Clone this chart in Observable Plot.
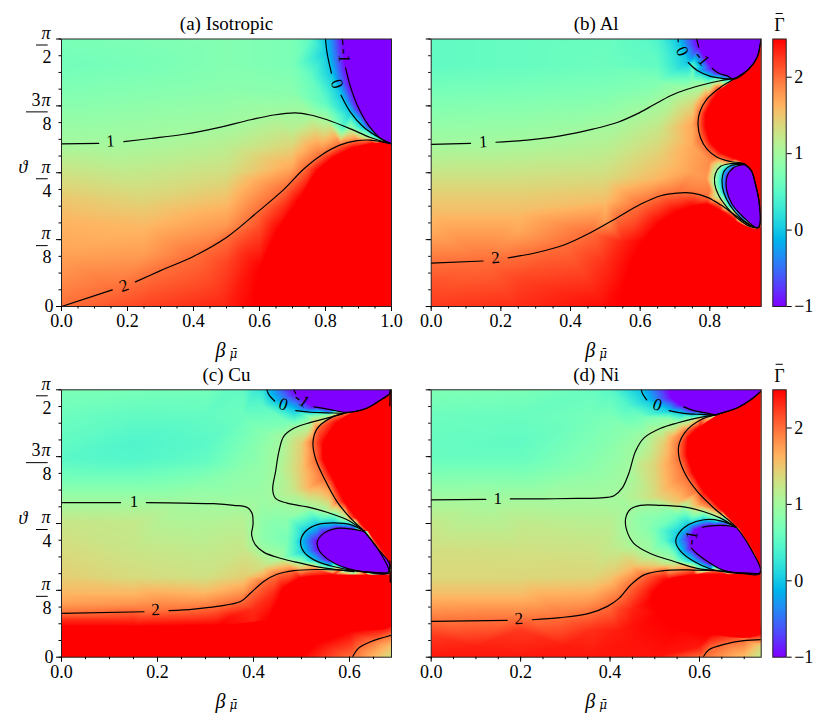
<!DOCTYPE html>
<html><head><meta charset="utf-8">
<script src="https://cdn.jsdelivr.net/npm/d3@7"></script>
<script src="https://cdn.jsdelivr.net/npm/@observablehq/plot@0.6"></script>
<style>html,body{margin:0;padding:0;background:#fff}#c{position:relative;width:830px;height:722px;overflow:hidden}</style>
</head><body><div id="c"></div>
<script>
// y values are ϑ/π. Each contour is a list of pieces [[β, ϑ/π], ...]; gaps between pieces hold the inline labels.
const aMinus1=[[[.851,.5],[.853,.49]],[[.861,.446],[.876,.41],[.901,.37],[.931,.338],[.967,.314],[1,.304]]];
const aZero=[[[.8,.5],[.805,.473],[.818,.436]],[[.847,.395],[.876,.363],[.916,.335],[.967,.314],[1,.304]]];
const aOne=[[[0,.304],[.113,.305]],[[.189,.308],[.27,.314],[.371,.322],[.472,.334],[.573,.349],[.643,.358],[.709,.362],[.754,.358],[.805,.349],[.876,.332],[.936,.316],[1,.304]]];
const aTwo=[[[0,0],[.154,.031]],[[.224,.046],[.3,.067],[.401,.094],[.502,.13],[.593,.176],[.674,.219],[.734,.257],[.785,.282],[.845,.302],[.896,.31],[.936,.311],[1,.304]]];
const aRed=[[[.578,0],[.603,.073],[.654,.142],[.724,.204],[.775,.254],[.825,.279],[.886,.297],[.946,.305],[1,.304],[1,0]]];
const aPurple=[[[.851,.5],[.853,.49],[.861,.446],[.876,.41],[.901,.37],[.931,.338],[.967,.314],[1,.304],[1,.5]]];
const aField=[[0,.5,.72],[0,.45,.66],[0,.4,.76],[0,.35,.9],[0,.25,1.28],[0,.2,1.5],[0,.16,1.62],[0,.1,1.72],[0,.05,1.85],
[.25,.5,.74],[.25,.45,.7],[.25,.4,.8],[.25,.35,.92],[.25,.25,1.22],[.25,.2,1.4],[.25,.15,1.6],[.25,.1,1.75],[.25,0,2.2],
[.5,.5,.78],[.5,.45,.78],[.5,.4,.84],[.5,.36,.93],[.5,.3,1.15],[.5,.25,1.32],[.5,.2,1.55],[.5,.15,1.8],[.5,.08,2.2],[.5,0,2.35],
[.7,.5,.72],[.7,.45,.72],[.7,.4,.82],[.7,.33,1.15],[.7,.3,1.4],[.7,.26,1.7],
[.75,.5,.55],[.75,.43,.6],[.8,.38,.55],[.85,.33,.6],
[.6,.15,2.15],[.55,.1,2.3],[.68,.19,2.3],[.55,.05,2.4],[.75,.25,2.2]];
const aLabels=[["1",.148,.309,-3],["2",.189,.039,-20],["0",.835,.416,70],["-1",.856,.469,90]];

const bMinus1=[[[.762,.5],[.768,.485]],[[.807,.445],[.826,.436],[.85,.431],[.869,.425],[.912,.444],[.936,.466],[.945,.491],[.9475,.5]],
[[.898,.265],[.869,.26],[.85,.244],[.848,.219],[.864,.191],[.898,.166],[.936,.147],[.944,.154],[.941,.198],[.931,.229],[.919,.254],[.898,.266]]];
const bZero=[[[.709,.5],[.709,.495]],[[.738,.456],[.764,.441],[.802,.43],[.84,.426],[.869,.425]],
[[.898,.266],[.859,.263],[.842,.254],[.835,.235],[.84,.213],[.859,.188],[.888,.166],[.926,.148]]];
const bOne=[[[0,.303],[.113,.305]],[[.186,.307],[.276,.311],[.371,.319],[.467,.332],[.534,.344],[.591,.36],[.639,.377],[.687,.394],[.735,.406],[.783,.415],[.83,.422],[.874,.427]],
[[.898,.267],[.859,.267],[.831,.262],[.816,.248],[.814,.229],[.826,.207],[.85,.185],[.883,.163],[.917,.149],[.936,.147]]];
const bTwo=[[[0,.081],[.149,.085]],[[.221,.091],[.304,.101],[.381,.115],[.457,.138],[.534,.166],[.601,.191],[.659,.207],[.706,.212],[.749,.212],[.793,.204],[.831,.19],[.874,.17],[.917,.151],[.936,.147]],
[[.9475,.5],[.945,.491],[.936,.466],[.912,.444],[.874,.427],[.831,.41],[.792,.388],[.771,.363],[.766,.341],[.773,.316],[.792,.294],[.821,.279],[.859,.271],[.898,.267],[.919,.254],[.931,.229],[.941,.198],[.945,.16],[.941,.147]]];
const bRed=[[[.548,0],[.553,.036],[.577,.085],[.61,.123],[.658,.157],[.706,.177],[.754,.188],[.793,.191],[.831,.179],[.874,.16],[.936,.145],[.9475,.147],[.9475,0]],
[[.9475,.5],[.945,.491],[.936,.466],[.912,.444],[.874,.427],[.83,.405],[.807,.385],[.788,.36],[.788,.335],[.802,.307],[.831,.288],[.874,.276],[.898,.267],[.919,.254],[.931,.229],[.941,.198],[.945,.16],[.941,.147],[.9475,.147]]];
const bPurple=[[[.762,.5],[.768,.485],[.807,.445],[.826,.436],[.85,.431],[.869,.425],[.912,.444],[.936,.466],[.945,.491],[.9475,.5]],bMinus1[2]];
const bField=[[0,.5,.55],[0,.45,.55],[0,.4,.7],[0,.35,.85],[0,.26,1.2],[0,.22,1.4],[0,.18,1.55],[0,.14,1.68],[0,.04,2.15],[0,0,2.25],
[.25,.5,.58],[.25,.45,.58],[.25,.4,.72],[.25,.35,.87],[.25,.26,1.22],[.25,.22,1.4],[.25,.18,1.55],[.25,.14,1.7],[.25,.05,2.2],[.25,0,2.3],
[.5,.5,.6],[.5,.45,.62],[.5,.4,.75],[.5,.36,.9],[.5,.28,1.2],[.5,.24,1.35],[.5,.2,1.55],[.5,.16,1.75],[.5,.08,2.3],[.5,0,2.45],
[.65,.5,.42],[.65,.45,.55],[.65,.42,.75],[.65,.33,1.25],[.65,.28,1.45],[.65,.24,1.6],
[.75,.45,.5],[.75,.42,.85],[.75,.38,1.35],[.75,.34,1.7],[.75,.3,1.7],[.75,.25,1.75],[.75,.22,1.9],[.8,.42,.7],[.8,.27,1.85],[.79,.24,1.8],[.8,.22,1.9],
[.62,.5,.5],[.68,.48,.3],
[.58,.15,2.2],[.65,.185,2.2],[.72,.2,2.2],[.55,.12,2.35]];
const bLabels=[["1",.149,.308,-3],["2",.185,.091,-5],["0",.721,.477,65],["-1",.778,.464,50]];

const cMinus1=[[[.484,.5],[.488,.493]],[[.526,.468],[.56,.463],[.588,.458],[.609,.459],[.637,.466],[.665,.481],[.682,.491],[.685,.5]],
[[.63,.235],[.609,.239],[.574,.241],[.547,.232],[.533,.216],[.536,.201],[.557,.182],[.595,.166],[.637,.159],[.678,.157],[.684,.173],[.658,.204],[.63,.236]]];
const cZero=[[[.428,.5],[.432,.491],[.444,.479]],[[.488,.461],[.519,.458],[.553,.457],[.588,.456]],
[[.63,.236],[.602,.248],[.567,.251],[.533,.248],[.508,.235],[.498,.216],[.505,.197],[.526,.182],[.56,.171],[.602,.163],[.644,.158],[.682,.157]]];
const cOne=[[[0,.289],[.123,.289]],[[.177,.289],[.255,.288],[.317,.287],[.359,.284],[.387,.28],[.397,.269],[.399,.248],[.396,.229],[.404,.21],[.422,.196],[.456,.185],[.498,.176],[.54,.168],[.581,.163],[.609,.16]],
[[.588,.456],[.553,.447],[.519,.439],[.484,.428],[.463,.413],[.453,.385],[.446,.347],[.44,.313],[.446,.297],[.47,.288],[.512,.281],[.553,.271],[.595,.257],[.63,.236]]];
const cTwo=[[[0,.082],[.172,.085]],[[.224,.087],[.276,.09],[.324,.095],[.373,.104],[.394,.12],[.422,.142],[.449,.155],[.484,.162],[.533,.164],[.581,.163],[.63,.16],[.682,.157]],
[[.682,.491],[.665,.481],[.637,.466],[.609,.459],[.588,.456],[.56,.447],[.533,.428],[.524,.403],[.529,.372],[.547,.335],[.574,.291],[.602,.26],[.63,.236],[.658,.204],[.678,.173],[.684,.159]],
[[.606,0],[.619,.017],[.644,.029],[.687,.041]],[[.685,.5],[.684,.47]],[[.684,.18],[.685,.14]]];
const cRed=[[[0,.057],[.151,.057],[.325,.06],[.429,.07],[.471,.079],[.453,.11],[.463,.129],[.498,.148],[.567,.154],[.637,.154],[.682,.154],[.6875,.15],[.6875,.06],[.602,.048],[.533,.026],[.498,0],[0,0]],
[[.6875,.5],[.682,.491],[.665,.481],[.637,.466],[.609,.459],[.575,.44],[.545,.4],[.545,.37],[.565,.335],[.59,.29],[.615,.26],[.64,.235],[.665,.205],[.684,.173],[.6875,.16]]];
const cPurple=[[[.484,.5],[.488,.493],[.526,.468],[.56,.463],[.588,.458],[.609,.459],[.637,.466],[.665,.481],[.682,.491],[.685,.5]],cMinus1[2]];
const cField=[[0,.5,.72],[0,.45,.62],[0,.4,.55],[0,.37,.5],[0,.33,.7],[0,.25,1.25],[0,.2,1.35],[0,.15,1.45],[0,.12,1.6],[0,.1,1.75],[0,.07,2.3],
[.15,.5,.7],[.15,.45,.55],[.15,.4,.43],[.15,.37,.45],[.15,.33,.7],[.15,.25,1.22],[.15,.2,1.25],[.15,.15,1.35],[.15,.12,1.6],[.15,.1,1.8],[.15,.07,2.3],
[.3,.5,.68],[.3,.45,.56],[.3,.4,.5],[.3,.37,.55],[.3,.33,.8],[.3,.3,.93],[.3,.25,1.1],[.3,.2,1.2],[.3,.15,1.3],[.3,.125,1.55],[.3,.105,1.8],
[.38,.5,.55],[.38,.45,.62],[.38,.4,.72],[.38,.35,.85],[.38,.3,.95],[.38,.26,1.1],[.38,.2,1.25],[.38,.15,1.45],[.38,.125,1.75],
[.42,.5,.2],[.42,.47,.5],[.42,.42,.8],[.42,.35,.9],[.42,.3,.95],[.42,.25,.85],[.42,.22,.85],[.42,.17,1.3],[.42,.15,1.7],
[.44,.25,.8],[.47,.22,.7],[.47,.26,.85],[.48,.216,.5],
[.48,.35,1.3],[.5,.35,1.5],[.5,.4,1.45],[.48,.31,1.2],[.52,.32,1.7],[.53,.3,1.35],[.56,.3,1.6],
[.47,.44,.7],[.52,.45,.85],[.55,.452,.9],[.4,.5,.3],[.35,.5,.55],
[.6875,.5,-1],[.6875,0,1.3],[.65,0,1.6],[.6875,.02,1.55],[.4,.02,2.5],
[.4,.09,2.3],[.44,.12,2.3],[.47,.14,2.35],[.35,.075,2.42]];
const cLabels=[["1",.151,.291,0],["2",.196,.089,-2],["0",.462,.473,20],["-1",.501,.481,35]];

const dMinus1=[[[.565,.468],[.588,.461],[.625,.455],[.636,.453],[.647,.456],[.684,.466],[.714,.481],[.737,.497]],
[[.606,.243],[.632,.246],[.662,.246],[.681,.243]],[[.582,.204],[.595,.193],[.625,.175],[.655,.162],[.699,.156],[.733,.155],[.738,.163]]];
const dZero=[[[.47,.5],[.472,.494],[.482,.481]],[[.532,.461],[.565,.456],[.603,.454],[.636,.453]],
[[.681,.244],[.647,.255],[.61,.257],[.576,.248],[.554,.232],[.547,.216],[.558,.198],[.588,.179],[.625,.165],[.662,.159],[.729,.156]]];
const dOne=[[[0,.294],[.122,.295]],[[.177,.296],[.252,.296],[.326,.297],[.379,.298],[.409,.302],[.427,.316],[.442,.344],[.457,.385],[.476,.41],[.513,.428],[.55,.438],[.588,.446],[.636,.453]],
[[.681,.243],[.647,.26],[.61,.272],[.565,.281],[.513,.284],[.468,.284],[.446,.277],[.435,.26],[.437,.238],[.453,.213],[.49,.194],[.543,.179],[.595,.166],[.64,.162]]];
const dTwo=[[[0,.067],[.17,.069]],[[.226,.07],[.289,.074],[.353,.082],[.394,.095],[.42,.11],[.446,.135],[.476,.154],[.52,.162],[.588,.163],[.64,.162],[.684,.158],[.733,.156]],
[[.737,.497],[.714,.481],[.684,.466],[.647,.456],[.603,.444],[.569,.422],[.554,.397],[.554,.375],[.569,.341],[.595,.31],[.632,.279],[.681,.244],[.714,.204],[.737,.163],[.733,.156]],
[[.608,0],[.621,.014],[.655,.024],[.699,.031],[.738,.033]]];
const dRed=[[[.49,.104],[.498,.123],[.528,.145],[.588,.154],[.662,.155],[.738,.155],[.738,.045],[.625,.042],[.55,.054],[.506,.079]],
[[.738,.5],[.737,.497],[.714,.481],[.684,.466],[.647,.456],[.6,.43],[.575,.41],[.572,.38],[.585,.345],[.61,.31],[.65,.275],[.69,.24],[.72,.2],[.737,.163],[.738,.16]]];
const dPurple=[[[.532,.5],[.539,.484],[.558,.472],[.588,.461],[.625,.455],[.636,.453],[.647,.456],[.684,.466],[.714,.481],[.737,.497],[.738,.5]],
[[.606,.243],[.632,.246],[.662,.246],[.681,.243],[.714,.204],[.737,.163],[.733,.155],[.699,.156],[.655,.162],[.625,.175],[.595,.193],[.582,.204],[.58,.223],[.59,.238]]];
const dField=[[0,.5,.75],[0,.45,.62],[0,.4,.58],[0,.37,.6],[0,.33,.8],[0,.25,1.22],[0,.2,1.32],[0,.15,1.38],[0,.12,1.55],[0,.09,1.8],[0,.04,2.25],[0,0,2.4],
[.2,.5,.72],[.2,.45,.6],[.2,.4,.55],[.2,.37,.6],[.2,.33,.8],[.2,.25,1.2],[.2,.2,1.3],[.2,.15,1.38],[.2,.12,1.55],[.2,.09,1.8],[.2,.05,2.25],[.2,0,2.4],
[.36,.5,.6],[.36,.45,.68],[.36,.4,.75],[.36,.35,.85],[.36,.31,.97],[.36,.25,1.15],[.36,.2,1.28],[.36,.15,1.4],[.36,.12,1.65],[.36,.09,1.95],[.36,.05,2.3],[.36,0,2.4],
[.4,.5,.5],[.4,.45,.72],[.4,.4,.82],[.4,.33,.95],[.4,.25,1.15],[.4,.2,1.22],[.4,.15,1.5],
[.45,.5,.1],[.44,.47,.45],[.44,.42,.85],
[.47,.36,1.25],[.5,.36,1.4],[.53,.36,1.7],[.5,.42,1.15],[.52,.4,1.45],[.54,.41,1.7],[.45,.3,1.12],[.5,.3,1.35],[.55,.29,1.5],[.6,.285,1.75],[.42,.27,1.05],[.42,.2,1.2],[.45,.17,1.55],[.5,.17,1.5],
[.47,.26,.85],[.5,.24,.7],[.52,.22,.5],[.5,.26,.8],[.55,.265,.65],[.48,.24,.85],
[.47,.45,.65],[.53,.445,.88],[.58,.445,.95],
[.5,0,2.42],[.6,.02,2.4],[.738,0,1.2],[.7,0,1.55],[.738,.02,1.4],[.1,.02,2.36],[.3,.02,2.38],[.45,.03,2.42],
[.42,.09,2.2],[.45,.09,2.35],[.45,.06,2.42],[.42,.05,2.38],[.47,.125,2.25]];
const dLabels=[["1",.149,.297,0],["2",.196,.072,-2],["0",.506,.472,20],["-1",.582,.223,-80]];

const xTicks=[0,.2,.4,.6,.8,1];
const xMinor=d3.range(0,21).map(i=>i*.05);
const yTicks=[0,.125,.25,.375,.5];
const yMinor=d3.range(0,17).map(i=>i/32);
const yFractions=[{y:.125,den:"8",bar:11.7},{y:.25,den:"4",bar:11.7},{y:.375,den:"8",bar:21.7,three:"3"},{y:.5,den:"2",bar:11.7}];
const barTicks=[-1,0,1,2];
const FONT="Liberation Serif", TICK=18, LAB=17;

// matplotlib "rainbow" colour map
const rainbow=t=>`rgb(${[Math.abs(2*t-.5),Math.sin(Math.PI*t),Math.cos(Math.PI*t/2)].map(c=>Math.round(255*Math.min(1,c))).join(",")})`;
const colorScale={type:"linear",domain:[-1,2.5],clamp:true,interpolate:rainbow};

function rows(pieces){
  let id=0; const out=[];
  pieces.forEach(piece=>{piece.forEach(q=>out.push({x:q[0],y:q[1],id}));id++;});
  return out;
}
function panel(p){
  const lines=rows(p.contours.flatMap(c=>c[1]));
  const seen=new Map();
  const add=(x,y,v)=>{const k=x+","+y;if(!seen.has(k))seen.set(k,{x,y,v});};
  [...p.contours].reverse().forEach(([level,pieces])=>pieces.forEach(piece=>piece.forEach(q=>add(q[0],q[1],level))));
  p.red.forEach(piece=>piece.forEach(q=>add(q[0],q[1],2.5)));
  p.purple.forEach(piece=>piece.forEach(q=>add(q[0],q[1],-1)));
  p.field.forEach(q=>add(q[0],q[1],q[2]));
  const samples=[...seen.values()];
  const k=p.xmax/330;
  const marks=[
    Plot.raster(samples,{x:"x",y:"y",fill:"v",interpolate:"barycentric",pixelSize:1,x1:0,x2:p.xmax,y1:0,y2:.5}),
    Plot.line(rows(p.red),{x:"x",y:"y",z:"id",fill:"#ff0000",stroke:"none",curve:"catmull-rom",clip:true}),
    Plot.line(rows(p.purple),{x:"x",y:"y",z:"id",fill:"#8000ff",stroke:"none",curve:"catmull-rom",clip:true}),
    Plot.line(lines,{x:"x",y:"y",z:"id",stroke:"black",strokeWidth:1.2,curve:"catmull-rom",clip:true}),
    Plot.text(p.labels,{x:d=>d[1],y:d=>d[2],text:d=>d[0],rotate:d=>d[3],fontSize:LAB,fill:"black"}),
    Plot.frame({stroke:"#222",strokeWidth:1}),
    Plot.axisX({ticks:xTicks.filter(v=>v<=p.xmax),tickSize:5,tickPadding:3,tickFormat:d3.format(".1f"),label:null,fontSize:TICK,fontFamily:FONT}),
    Plot.axisX({ticks:xMinor.filter(v=>v<=p.xmax),tickSize:2.5,tickFormat:()=>"",label:null}),
    Plot.axisY({ticks:yTicks,tickSize:5,tickFormat:()=>"",label:null}),
    Plot.axisY({ticks:yMinor,tickSize:2.5,tickFormat:()=>"",label:null}),
    Plot.text([p.title],{frameAnchor:"top",dy:-15,fontSize:19,lineAnchor:"middle"}),
    Plot.text(["β"],{frameAnchor:"bottom",dy:44,dx:-6,fontSize:20,fontStyle:"italic",lineAnchor:"middle"}),
    Plot.text(["μ̄"],{frameAnchor:"bottom",dy:48,dx:7,fontSize:12,fontStyle:"italic",fontFamily:"DejaVu Serif",lineAnchor:"middle"})
  ];
  if(p.yLabels) marks.push(
    Plot.text(["0"],{y:()=>0,frameAnchor:"left",dx:-17,fontSize:TICK}),
    Plot.text(yFractions,{y:"y",text:()=>"π",frameAnchor:"left",dx:-20,dy:-6,fontSize:TICK,fontStyle:"italic"}),
    Plot.text(yFractions.filter(d=>d.three),{y:"y",text:"three",frameAnchor:"left",dx:-30,dy:-6,fontSize:TICK}),
    Plot.ruleY(yFractions,{y:"y",x1:d=>-(13.3+d.bar)*k,x2:-13.3*k,dy:6,stroke:"black",strokeWidth:1}),
    Plot.text(yFractions,{y:"y",text:"den",frameAnchor:"left",dx:-19,dy:18,fontSize:TICK}),
    Plot.text(["ϑ"],{y:()=>.26,frameAnchor:"left",dx:-43,fontSize:18,fontStyle:"italic"})
  );
  const svg=Plot.plot({width:p.w,height:361,marginLeft:p.ml,marginRight:p.mr,marginTop:p.mt,marginBottom:p.mb,
    x:{domain:[0,p.xmax]},y:{domain:[0,.5]},color:colorScale,
    style:{position:"absolute",left:p.left+"px",top:p.top+"px",maxWidth:"none",background:"transparent",fontFamily:FONT,color:"black",overflow:"visible"},
    marks});
  document.getElementById("c").appendChild(svg);
}
function colorbar(top,mt,mb){
  const svg=Plot.plot({width:68,height:361,marginLeft:10.3,marginRight:44.3,marginTop:mt,marginBottom:mb,
    x:{domain:[0,1]},y:{domain:[-1,2.5]},color:colorScale,
    style:{position:"absolute",left:"762px",top:top+"px",maxWidth:"none",background:"transparent",fontFamily:FONT,color:"black",overflow:"visible"},
    marks:[
      Plot.raster({fill:(x,y)=>y,x1:0,x2:1,y1:-1,y2:2.5,pixelSize:1}),
      Plot.frame({stroke:"#222",strokeWidth:1}),
      Plot.axisX({ticks:[],label:null}),
      Plot.axisY({anchor:"right",ticks:barTicks,tickSize:5,tickPadding:3,tickFormat:d=>d<0?"−1":String(d),label:null,fontSize:TICK,fontFamily:FONT}),
      Plot.text(["Γ"],{frameAnchor:"top",dy:-14,fontSize:18,lineAnchor:"middle"}),
      Plot.ruleY([2.5],{x1:.25,x2:.78,dy:-25.5,stroke:"black",strokeWidth:1})
    ]});
  document.getElementById("c").appendChild(svg);
}
const rowA={top:0,mt:38.5,mb:55}, rowB={top:351,mt:38.3,mb:55.3};
panel({...rowA,left:0,w:415,ml:61,mr:24,xmax:1,title:"(a) Isotropic",yLabels:true,contours:[[-1,aMinus1],[0,aZero],[1,aOne],[2,aTwo]],red:aRed,purple:aPurple,field:aField,labels:aLabels});
panel({...rowA,left:415,w:355,ml:15.7,mr:9.3,xmax:.9475,title:"(b) Al",contours:[[-1,bMinus1],[0,bZero],[1,bOne],[2,bTwo]],red:bRed,purple:bPurple,field:bField,labels:bLabels});
panel({...rowB,left:0,w:415,ml:61,mr:24,xmax:.6875,title:"(c) Cu",yLabels:true,contours:[[-1,cMinus1],[0,cZero],[1,cOne],[2,cTwo]],red:cRed,purple:cPurple,field:cField,labels:cLabels});
panel({...rowB,left:415,w:355,ml:15.7,mr:9.3,xmax:.738,title:"(d) Ni",contours:[[-1,dMinus1],[0,dZero],[1,dOne],[2,dTwo]],red:dRed,purple:dPurple,field:dField,labels:dLabels});
colorbar(0,38.5,55);
colorbar(351,38.3,55.3);
</script></body></html>
